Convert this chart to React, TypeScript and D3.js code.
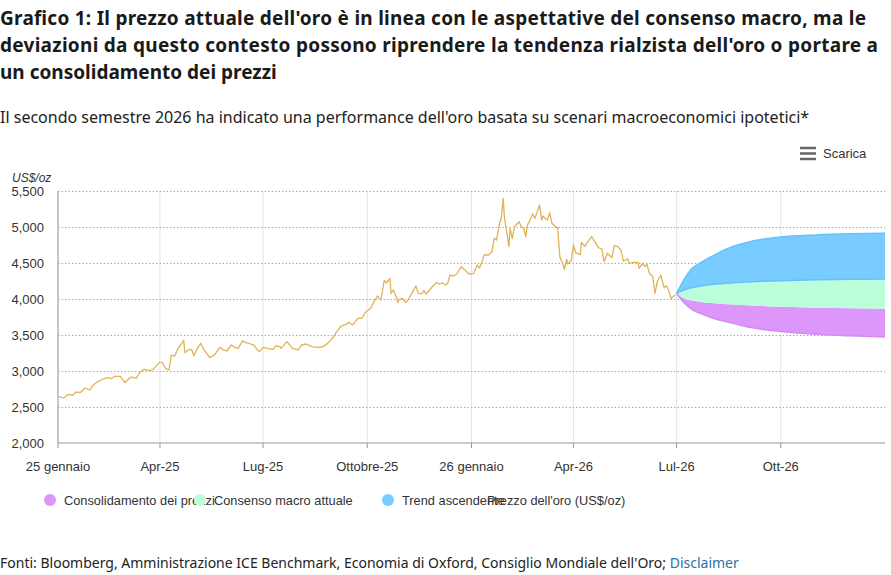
import React from "react";
import * as d3 from "d3";

// prezzo dell'oro
const goldSeries: [string, number][] = [
  ["2025-01-02", 2643], ["2025-01-06", 2625], ["2025-01-10", 2676], ["2025-01-14", 2662],
  ["2025-01-17", 2708], ["2025-01-21", 2704], ["2025-01-25", 2764], ["2025-01-29", 2736],
  ["2025-02-01", 2805], ["2025-02-05", 2852], ["2025-02-10", 2889], ["2025-02-14", 2907],
  ["2025-02-17", 2893], ["2025-02-20", 2926], ["2025-02-25", 2926], ["2025-03-01", 2838],
  ["2025-03-05", 2898], ["2025-03-07", 2917], ["2025-03-11", 2898], ["2025-03-14", 2976],
  ["2025-03-18", 3023], ["2025-03-23", 3004], ["2025-03-26", 3023], ["2025-03-29", 3074],
  ["2025-04-01", 3125], ["2025-04-03", 3115], ["2025-04-06", 3037], ["2025-04-09", 3014],
  ["2025-04-11", 3222], ["2025-04-14", 3208], ["2025-04-17", 3315], ["2025-04-19", 3361],
  ["2025-04-22", 3426], ["2025-04-23", 3254], ["2025-04-26", 3292], ["2025-04-29", 3301],
  ["2025-05-01", 3213], ["2025-05-04", 3315], ["2025-05-07", 3384], ["2025-05-10", 3292],
  ["2025-05-15", 3185], ["2025-05-19", 3222], ["2025-05-24", 3329], ["2025-05-27", 3292],
  ["2025-05-30", 3278], ["2025-06-03", 3361], ["2025-06-06", 3329], ["2025-06-09", 3315],
  ["2025-06-13", 3421], ["2025-06-16", 3393], ["2025-06-20", 3375], ["2025-06-23", 3361],
  ["2025-06-26", 3292], ["2025-06-28", 3268], ["2025-07-01", 3329], ["2025-07-05", 3315],
  ["2025-07-10", 3301], ["2025-07-12", 3347], ["2025-07-16", 3338], ["2025-07-17", 3315],
  ["2025-07-22", 3407], ["2025-07-27", 3315], ["2025-08-01", 3292], ["2025-08-04", 3361],
  ["2025-08-08", 3375], ["2025-08-13", 3338], ["2025-08-18", 3329], ["2025-08-23", 3338],
  ["2025-08-27", 3384], ["2025-09-01", 3468], ["2025-09-04", 3546], ["2025-09-08", 3625],
  ["2025-09-12", 3648], ["2025-09-15", 3675], ["2025-09-18", 3640], ["2025-09-23", 3735],
  ["2025-09-26", 3732], ["2025-09-30", 3824], ["2025-10-04", 3871], ["2025-10-07", 3963],
  ["2025-10-10", 4042], ["2025-10-13", 3986], ["2025-10-16", 4254], ["2025-10-18", 4226],
  ["2025-10-21", 4287], ["2025-10-22", 4079], ["2025-10-24", 4125], ["2025-10-27", 4009],
  ["2025-10-28", 3949], ["2025-10-29", 3995], ["2025-11-01", 4009], ["2025-11-04", 3949],
  ["2025-11-06", 3986], ["2025-11-10", 4102], ["2025-11-13", 4181], ["2025-11-15", 4079],
  ["2025-11-18", 4070], ["2025-11-20", 4116], ["2025-11-22", 4070], ["2025-11-25", 4125],
  ["2025-11-28", 4181], ["2025-12-01", 4226], ["2025-12-04", 4208], ["2025-12-06", 4226],
  ["2025-12-09", 4194], ["2025-12-11", 4217], ["2025-12-13", 4333], ["2025-12-16", 4319],
  ["2025-12-19", 4347], ["2025-12-23", 4449], ["2025-12-26", 4403], ["2025-12-30", 4347],
  ["2026-01-03", 4356], ["2026-01-06", 4472], ["2026-01-08", 4430], ["2026-01-11", 4542],
  ["2026-01-12", 4611], ["2026-01-16", 4611], ["2026-01-19", 4657], ["2026-01-21", 4843],
  ["2026-01-23", 4819], ["2026-01-26", 5074], ["2026-01-27", 5088], ["2026-01-29", 5398],
  ["2026-01-30", 5143], ["2026-02-01", 4935], ["2026-02-03", 4727], ["2026-02-04", 4981],
  ["2026-02-06", 4843], ["2026-02-08", 5004], ["2026-02-10", 5042], ["2026-02-12", 5074],
  ["2026-02-14", 5004], ["2026-02-16", 4981], ["2026-02-18", 4865], ["2026-02-19", 5014],
  ["2026-02-21", 5074], ["2026-02-24", 5181], ["2026-02-26", 5120], ["2026-02-28", 5213],
  ["2026-03-02", 5306], ["2026-03-04", 5097], ["2026-03-05", 5153], ["2026-03-07", 5120],
  ["2026-03-09", 5097], ["2026-03-11", 5199], ["2026-03-13", 5051], ["2026-03-16", 5004],
  ["2026-03-18", 4995], ["2026-03-20", 4588], ["2026-03-23", 4472], ["2026-03-24", 4412],
  ["2026-03-26", 4551], ["2026-03-27", 4486], ["2026-03-30", 4532], ["2026-04-01", 4750],
  ["2026-04-03", 4640], ["2026-04-07", 4615], ["2026-04-08", 4785], ["2026-04-11", 4730],
  ["2026-04-13", 4780], ["2026-04-17", 4866], ["2026-04-20", 4796], ["2026-04-23", 4713],
  ["2026-04-26", 4695], ["2026-04-28", 4518], ["2026-05-01", 4635], ["2026-05-05", 4574],
  ["2026-05-07", 4741], ["2026-05-10", 4727], ["2026-05-13", 4681], ["2026-05-15", 4528],
  ["2026-05-19", 4556], ["2026-05-20", 4496], ["2026-05-24", 4510], ["2026-05-28", 4510],
  ["2026-05-29", 4426], ["2026-06-01", 4496], ["2026-06-03", 4449], ["2026-06-05", 4482],
  ["2026-06-07", 4357], ["2026-06-10", 4310], ["2026-06-12", 4079], ["2026-06-14", 4240],
  ["2026-06-17", 4333], ["2026-06-20", 4157], ["2026-06-22", 4185], ["2026-06-24", 4125],
  ["2026-06-26", 4009], ["2026-06-28", 4032], ["2026-06-30", 4060],
];

// scenari (H2 2026)
const scenarioDates = [
  "2026-07-01", "2026-07-08", "2026-07-15", "2026-07-22", "2026-08-01", "2026-08-15",
  "2026-09-01", "2026-09-15", "2026-10-01", "2026-11-01", "2026-12-01", "2027-01-01",
];
const consolidationLow = [4079, 3940, 3850, 3800, 3740, 3680, 3615, 3578, 3550, 3510, 3488, 3472];
const consolidationHigh = [4079, 4005, 3978, 3960, 3944, 3928, 3914, 3903, 3892, 3880, 3872, 3866];
const consensusHigh = [4079, 4128, 4160, 4180, 4200, 4218, 4235, 4245, 4255, 4268, 4274, 4278];
const trendHigh = [4079, 4280, 4430, 4500, 4590, 4700, 4785, 4830, 4862, 4890, 4905, 4912];

const yTicks = [2000, 2500, 3000, 3500, 4000, 4500, 5000, 5500];
const xTickDates = [
  "2025-01-01", "2025-04-01", "2025-07-01", "2025-10-01",
  "2026-01-01", "2026-04-01", "2026-07-01", "2026-10-01",
];
const xTickLabels = [
  "25 gennaio", "Apr-25", "Lug-25", "Ottobre-25",
  "26 gennaio", "Apr-26", "Lul-26", "Ott-26",
];

const titleLines = [
  "Grafico 1: Il prezzo attuale dell'oro è in linea con le aspettative del consenso macro, ma le",
  "deviazioni da questo contesto possono riprendere la tendenza rialzista dell'oro o portare a",
  "un consolidamento dei prezzi",
];

const legendItems = [
  { label: "Consolidamento dei prezzi", color: "#dd96fa", x: 50 },
  { label: "Consenso macro attuale", color: "#bbffda", x: 200 },
  { label: "Trend ascendente", color: "#78ccff", x: 388 },
  { label: "Prezzo dell'oro (US$/oz)", color: null, x: 475 },
];

const parse = d3.utcParse("%Y-%m-%d");

export default function App() {
  const width = 891;
  const height = 575;
  const margin = { top: 191, right: 6, bottom: 132, left: 58 };

  const x = d3
    .scaleUtc()
    .domain([parse("2025-01-01")!, parse("2027-01-01")!])
    .range([margin.left, width - margin.right]);

  const y = d3
    .scaleLinear()
    .domain([2000, 5500])
    .range([height - margin.bottom, margin.top]);

  const gold = goldSeries.map(([d, v]) => ({ date: parse(d)!, value: v }));
  const line = d3
    .line<{ date: Date; value: number }>()
    .x((d) => x(d.date))
    .y((d) => y(d.value));

  const sDates = scenarioDates.map((d) => parse(d)!);
  const band = (lo: number[], hi: number[]) =>
    d3
      .area<number>()
      .curve(d3.curveMonotoneX)
      .x((_, i) => x(sDates[i]))
      .y0((_, i) => y(lo[i]))
      .y1((_, i) => y(hi[i]))(sDates.map((_, i) => i));
  const edge = (vals: number[]) =>
    d3
      .line<number>()
      .curve(d3.curveMonotoneX)
      .x((_, i) => x(sDates[i]))
      .y((_, i) => y(vals[i]))(sDates.map((_, i) => i));

  const axisFont = "'Liberation Sans', Arial, sans-serif";
  const plotBottom = y(2000);
  const titleWidths = [866, 878, null];

  return (
    <div style={{ position: "absolute", left: 0, top: 0 }}>
      <svg width={width} height={height} style={{ display: "block" }}>
        <rect width={width} height={height} fill="white" />

        {/* Titolo */}
        <g fontFamily="'Noto Sans', sans-serif" fontWeight="700" fontSize="19" fill="#1a1a1a">
          {titleLines.map((t, i) => (
            <text
              key={i}
              x={0}
              y={25 + i * 27}
              textLength={titleWidths[i] ?? undefined}
              lengthAdjust={titleWidths[i] ? "spacing" : undefined}
            >
              {t}
            </text>
          ))}
        </g>
        <text x={0} y={123} fontFamily="'Noto Sans', sans-serif" fontSize="16" fill="#222">
          Il secondo semestre 2026 ha indicato una performance dell'oro basata su scenari macroeconomici ipotetici*
        </text>

        {/* Scarica */}
        <g stroke="#666" strokeWidth={2.5}>
          <line x1={800} x2={816} y1={148} y2={148} />
          <line x1={800} x2={816} y1={153.5} y2={153.5} />
          <line x1={800} x2={816} y1={159} y2={159} />
        </g>
        <text x={823} y={158} fontFamily={axisFont} fontSize="13" fill="#333">
          Scarica
        </text>

        {/* griglia verticale */}
        {xTickDates.map((d) => (
          <line
            key={"v" + d}
            x1={x(parse(d)!)}
            x2={x(parse(d)!)}
            y1={margin.top}
            y2={plotBottom}
            stroke="#e6e6e6"
          />
        ))}

        {/* griglia orizzontale */}
        {yTicks.slice(1).map((t) => (
          <line
            key={"h" + t}
            x1={margin.left}
            x2={width - margin.right}
            y1={y(t) + 0.5}
            y2={y(t) + 0.5}
            stroke="#aaa"
            strokeDasharray="1.5,2"
          />
        ))}

        {/* scenari */}
        <path d={band(consolidationLow, consolidationHigh) ?? ""} fill="#dd96fa" />
        <path d={band(consolidationHigh, consensusHigh) ?? ""} fill="#bbffda" />
        <path d={band(consensusHigh, trendHigh) ?? ""} fill="#78ccff" />
        <path d={edge(consolidationLow) ?? ""} fill="none" stroke="#d58af6" strokeWidth={1.5} />
        <path d={edge(consensusHigh) ?? ""} fill="none" stroke="#64c1fb" strokeWidth={1.5} />
        <path d={edge(trendHigh) ?? ""} fill="none" stroke="#64c1fb" strokeWidth={1.5} />

        {/* prezzo dell'oro */}
        <path d={line(gold) ?? ""} fill="none" stroke="#e2b257" strokeWidth={1.3} strokeLinejoin="round" />

        {/* asse Y */}
        <line x1={margin.left} x2={margin.left} y1={margin.top} y2={plotBottom} stroke="#999" />
        <text x={12} y={182} fontFamily={axisFont} fontSize="12" fontStyle="italic" fill="#333">
          US$/oz
        </text>
        {yTicks.map((t) => (
          <text
            key={"yl" + t}
            x={44}
            y={y(t) + 5}
            textAnchor="end"
            fontFamily={axisFont}
            fontSize="13"
            fill="#333"
          >
            {d3.format(",")(t)}
          </text>
        ))}

        {/* asse X */}
        <line x1={margin.left} x2={width - margin.right} y1={plotBottom} y2={plotBottom} stroke="#999" />
        {xTickDates.map((d, i) => (
          <g key={"xt" + d} transform={`translate(${x(parse(d)!)},0)`}>
            <line y1={plotBottom} y2={plotBottom + 5} stroke="#999" />
            <text
              y={plotBottom + 28}
              textAnchor="middle"
              fontFamily={axisFont}
              fontSize="13"
              fill="#333"
            >
              {xTickLabels[i]}
            </text>
          </g>
        ))}

        {/* legenda */}
        {legendItems.map((it) => (
          <text
            key={it.label}
            x={it.color ? it.x + 14 : it.x + 12}
            y={505}
            fontFamily={axisFont}
            fontSize="12.8"
            fill="#333"
          >
            {it.label}
          </text>
        ))}
        {legendItems
          .filter((it) => it.color)
          .map((it) => (
            <circle key={"c" + it.label} cx={it.x} cy={500} r={6} fill={it.color!} />
          ))}

        {/* fonti */}
        <text x={0} y={568} fontFamily="'Noto Sans', sans-serif" fontSize="14" fill="#222">
          Fonti: Bloomberg, Amministrazione ICE Benchmark, Economia di Oxford, Consiglio Mondiale dell'Oro;{" "}
          <tspan fill="#2f6fa7">Disclaimer</tspan>
        </text>
      </svg>
    </div>
  );
}
